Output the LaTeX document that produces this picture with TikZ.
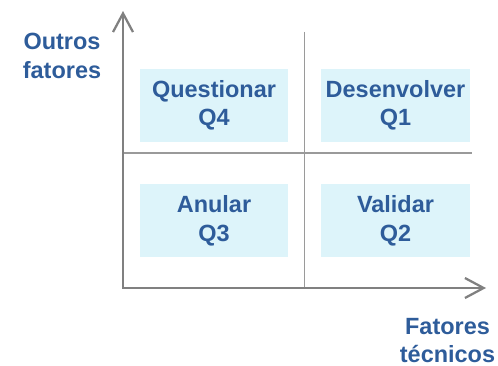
\documentclass[tikz,border=0pt]{standalone}
\usepackage{fontspec}
\setmainfont{Liberation Sans}
\usetikzlibrary{arrows.meta}
\definecolor{txt}{HTML}{2E5C9A}
\definecolor{boxfill}{HTML}{DDF4FA}
\definecolor{axiscol}{HTML}{808080}
\definecolor{gridcol}{HTML}{9A9A9A}
\begin{document}
\begin{tikzpicture}[x=0.75pt,y=-0.75pt,
  lbl/.style={font=\bfseries\fontsize{17.6}{21.4}\selectfont, text=txt, align=center, inner sep=0pt},
  quad/.style={lbl, fill=boxfill, minimum width=111.2pt, minimum height=54.4pt},
  axisline/.style={draw=axiscol, line width=1.7pt, >={Straight Barb[length=14pt,width=15pt]}},
  gridline/.style={draw=gridcol, line width=1.1pt}]
\useasboundingbox (0,0) rectangle (498,366);
% grid coordinates
\coordinate (vt) at (304.5,32);
\coordinate (vb) at (304.5,288);
\coordinate (hl) at (123,153);
\coordinate (hr) at (471.5,153);
\coordinate (ytip) at (123,11);
\coordinate (xtip) at (486,288);
% quadrant boxes
\node[quad] (q4) at (214,105.4) {Questionar\\Q4};
\node[quad] (q1) at (395.5,105.4) {Desenvolver\\Q1};
\node[quad] (q3) at (214,220.7) {Anular\\Q3};
\node[quad] (q2) at (395.5,220.7) {Validar\\Q2};
% grid lines
\draw[gridline] (vt) -- (vb);
\draw[gridline] (hl) -- (hr);
% axes
\draw[axisline, <->] (ytip) |- (xtip);
% axis labels
\node[lbl] (ylab) at (62,56) {Outros\\fatores};
\node[lbl] (xlab) at (447.5,340.5) {Fatores\\técnicos};
\end{tikzpicture}
\end{document}
